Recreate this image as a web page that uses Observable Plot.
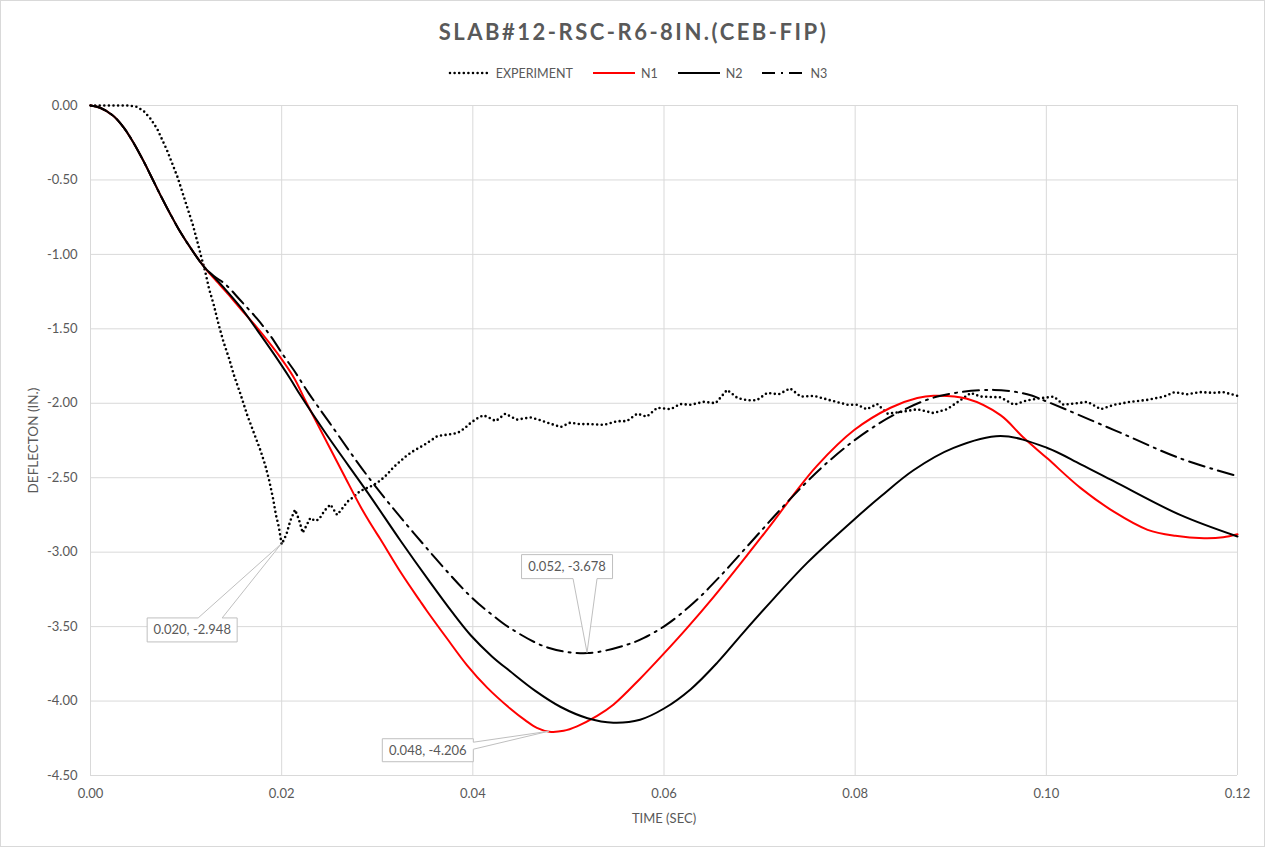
<!DOCTYPE html>
<html>
<head>
<meta charset="utf-8">
<script src="https://cdn.jsdelivr.net/npm/d3@7"></script>
<script src="https://cdn.jsdelivr.net/npm/@observablehq/plot@0.6"></script>
<style>
  html, body { margin: 0; padding: 0; background: #fff; }
  #chart { position: relative; width: 1265px; height: 847px; box-sizing: border-box; border: 1px solid #d9d9d9; font-family: Lato, "Open Sans", sans-serif; color: #595959; overflow: hidden; }
  #title { height: 61px; line-height: 62px; text-align: center; font-size: 22px; font-weight: bold; letter-spacing: 2.5px; color: #595959; padding-left: 2px; }
  #legend { height: 22px; display: flex; justify-content: center; align-items: center; font-size: 12.5px; color: #595959; padding-left: 10px; }
  .item { display: flex; align-items: center; margin: 0 10px; }
  .item svg { margin-right: 6px; }
  #plot svg { display: block; }
</style>
</head>
<body>
<div id="chart">
  <div id="title"></div>
  <div id="legend"></div>
  <div id="plot"></div>
</div>
<script>
const chartTitle = "SLAB#12-RSC-R6-8IN.(CEB-FIP)";
const xLabel = "TIME (SEC)";
const yLabel = "DEFLECTON (IN.)";
const seriesNames = ["EXPERIMENT", "N1", "N2", "N3"];
const xTicks = [0, 0.02, 0.04, 0.06, 0.08, 0.10, 0.12];
const yTicks = [0, -0.5, -1, -1.5, -2, -2.5, -3, -3.5, -4, -4.5];

// EXPERIMENT
const expT = [0, 0.002, 0.004, 0.0049, 0.0056, 0.0063, 0.007, 0.008, 0.0091, 0.0101, 0.0107, 0.0112, 0.0116, 0.012, 0.0124, 0.0129, 0.0134, 0.0139, 0.0145, 0.015, 0.0157, 0.0164, 0.0171, 0.0178, 0.0183, 0.0187, 0.0191, 0.0194, 0.0197, 0.0200, 0.0205, 0.0209, 0.0214, 0.0218, 0.0222, 0.0226, 0.023, 0.0235, 0.0239, 0.0245, 0.0251, 0.0255, 0.0258, 0.0263, 0.0269, 0.0275, 0.0282, 0.0289, 0.0296, 0.0303, 0.031, 0.0317, 0.0324, 0.0331, 0.0338, 0.0349, 0.0356, 0.0363, 0.0374, 0.0384, 0.0391, 0.0398, 0.0405, 0.0411, 0.0418, 0.0424, 0.0434, 0.0446, 0.046, 0.0469, 0.0478, 0.0492, 0.0502, 0.0512, 0.0523, 0.0537, 0.0551, 0.0561, 0.0572, 0.0582, 0.0593, 0.0607, 0.0617, 0.0628, 0.0642, 0.0654, 0.0666, 0.0677, 0.0687, 0.0697, 0.0708, 0.072, 0.0732, 0.0743, 0.0757, 0.0774, 0.0792, 0.0802, 0.0812, 0.0823, 0.0834, 0.0851, 0.0865, 0.0882, 0.0896, 0.091, 0.0921, 0.0931, 0.0952, 0.0966, 0.098, 0.0994, 0.1008, 0.1018, 0.1032, 0.1043, 0.1057, 0.1071, 0.1088, 0.1106, 0.1123, 0.1134, 0.1147, 0.1161, 0.1175, 0.1185, 0.12];
const expV = [0, 0, 0, -0.01, -0.04, -0.09, -0.16, -0.30, -0.48, -0.68, -0.80, -0.92, -1.02, -1.115, -1.23, -1.34, -1.47, -1.585, -1.70, -1.81, -1.94, -2.08, -2.20, -2.32, -2.42, -2.52, -2.64, -2.75, -2.83, -2.948, -2.88, -2.79, -2.715, -2.78, -2.87, -2.82, -2.77, -2.79, -2.78, -2.72, -2.68, -2.72, -2.75, -2.71, -2.66, -2.63, -2.59, -2.57, -2.55, -2.52, -2.48, -2.43, -2.39, -2.35, -2.32, -2.28, -2.25, -2.22, -2.21, -2.20, -2.17, -2.13, -2.10, -2.08, -2.10, -2.12, -2.07, -2.11, -2.095, -2.11, -2.13, -2.16, -2.13, -2.14, -2.14, -2.145, -2.12, -2.12, -2.07, -2.09, -2.03, -2.04, -2.005, -2.01, -1.99, -2.00, -1.91, -1.965, -1.98, -1.98, -1.93, -1.94, -1.90, -1.955, -1.95, -1.98, -2.01, -2.01, -2.04, -2.005, -2.07, -2.055, -2.04, -2.066, -2.04, -1.98, -1.93, -1.955, -1.96, -2.01, -1.98, -1.966, -1.955, -2.01, -2.00, -1.99, -2.04, -2.01, -1.99, -1.977, -1.955, -1.925, -1.94, -1.925, -1.93, -1.925, -1.95];

// N1
const n1T = [0, 0.001, 0.0024, 0.0035, 0.0045, 0.0056, 0.0063, 0.0073, 0.0084, 0.0094, 0.0105, 0.0119, 0.0129, 0.0143, 0.0157, 0.0174, 0.0195, 0.0213, 0.0225, 0.0248, 0.0265, 0.0283, 0.0296, 0.0303, 0.0325, 0.0345, 0.0352, 0.0373, 0.0394, 0.0415, 0.0439, 0.0455, 0.0467, 0.048, 0.0495, 0.0509, 0.053, 0.0547, 0.0575, 0.06, 0.0624, 0.0652, 0.0687, 0.0715, 0.0736, 0.076, 0.0799, 0.0837, 0.0865, 0.0882, 0.0917, 0.0952, 0.0976, 0.1001, 0.1036, 0.1071, 0.1106, 0.1135, 0.1165, 0.1185, 0.12];
const n1V = [0, -0.015, -0.07, -0.15, -0.25, -0.38, -0.47, -0.60, -0.735, -0.85, -0.96, -1.085, -1.16, -1.26, -1.365, -1.49, -1.66, -1.83, -1.985, -2.27, -2.48, -2.70, -2.84, -2.91, -3.14, -3.33, -3.395, -3.58, -3.76, -3.91, -4.05, -4.13, -4.18, -4.206, -4.20, -4.17, -4.10, -4.025, -3.85, -3.68, -3.51, -3.30, -3.02, -2.79, -2.61, -2.42, -2.18, -2.03, -1.965, -1.95, -1.97, -2.08, -2.23, -2.37, -2.57, -2.73, -2.85, -2.89, -2.906, -2.90, -2.88];

// N2
const n2T = [0, 0.001, 0.0024, 0.0035, 0.0045, 0.0056, 0.0063, 0.0073, 0.0084, 0.0094, 0.0105, 0.0119, 0.0129, 0.0139, 0.0157, 0.0174, 0.0192, 0.0209, 0.022, 0.0248, 0.029, 0.0324, 0.0355, 0.0378, 0.0398, 0.042, 0.0439, 0.0465, 0.0492, 0.052, 0.0547, 0.0575, 0.06, 0.0628, 0.0656, 0.0683, 0.0715, 0.075, 0.0799, 0.0827, 0.0861, 0.0903, 0.0952, 0.1001, 0.1036, 0.1071, 0.114, 0.12];
const n2V = [0, -0.015, -0.07, -0.15, -0.25, -0.38, -0.47, -0.60, -0.735, -0.85, -0.96, -1.085, -1.15, -1.22, -1.355, -1.505, -1.67, -1.835, -1.95, -2.22, -2.60, -2.92, -3.20, -3.40, -3.56, -3.70, -3.80, -3.93, -4.04, -4.115, -4.145, -4.125, -4.05, -3.92, -3.74, -3.54, -3.31, -3.07, -2.78, -2.625, -2.45, -2.30, -2.22, -2.30, -2.41, -2.525, -2.75, -2.895];

// N3
const n3T = [0, 0.001, 0.0024, 0.0035, 0.0045, 0.0056, 0.0063, 0.0073, 0.0084, 0.0094, 0.0105, 0.0119, 0.0129, 0.0141, 0.0157, 0.0174, 0.0188, 0.0202, 0.0213, 0.0228, 0.025, 0.029, 0.0338, 0.0398, 0.0422, 0.0439, 0.0478, 0.052, 0.0562, 0.0579, 0.0602, 0.0631, 0.0659, 0.069, 0.0718, 0.0746, 0.0767, 0.0799, 0.084, 0.0886, 0.0945, 0.098, 0.1001, 0.1071, 0.114, 0.12];
const n3V = [0, -0.015, -0.07, -0.15, -0.25, -0.38, -0.47, -0.60, -0.735, -0.85, -0.96, -1.085, -1.145, -1.20, -1.31, -1.43, -1.545, -1.68, -1.78, -1.93, -2.13, -2.49, -2.87, -3.30, -3.43, -3.51, -3.64, -3.678, -3.62, -3.575, -3.49, -3.34, -3.16, -2.94, -2.74, -2.55, -2.42, -2.25, -2.08, -1.955, -1.91, -1.94, -1.99, -2.18, -2.37, -2.49];

// data labels (callouts)
const calloutT = [0.020, 0.052, 0.048];
const calloutV = [-2.948, -3.678, -4.206];

// ---- styles (not data) ----
const seriesStyle = {
  "EXPERIMENT": {stroke: "#000", strokeWidth: 2.6, strokeDasharray: "0 4.6", strokeLinecap: "round", curve: "linear"},
  "N1": {stroke: "#ff0000", strokeWidth: 2, curve: "catmull-rom"},
  "N2": {stroke: "#000", strokeWidth: 2, curve: "catmull-rom"},
  "N3": {stroke: "#000", strokeWidth: 2, strokeDasharray: "16 6 2 6", curve: "catmull-rom"}
};
const calloutLayout = [
  {dx: -89, dy: 86, w: 90, h: 24, side: "top", a: 6, b: 30},
  {dx: -20, dy: -86, w: 91, h: 24, side: "bottom", a: 6, b: 30},
  {dx: -121, dy: 19, w: 91, h: 23, side: "right", a: -8, b: -1}
];

function rows(ts, vs) { return ts.map((t, i) => ({t, v: vs[i]})); }
const seriesData = {
  "EXPERIMENT": rows(expT, expV),
  "N1": rows(n1T, n1V),
  "N2": rows(n2T, n2V),
  "N3": rows(n3T, n3V)
};

document.getElementById("title").textContent = chartTitle;

// legend
const legend = document.getElementById("legend");
for (const name of seriesNames) {
  const s = seriesStyle[name];
  const item = document.createElement("div");
  item.className = "item";
  const ns = "http://www.w3.org/2000/svg";
  const sv = document.createElementNS(ns, "svg");
  sv.setAttribute("width", 42); sv.setAttribute("height", 10);
  const ln = document.createElementNS(ns, "line");
  ln.setAttribute("x1", name === "EXPERIMENT" ? 2 : 0); ln.setAttribute("x2", 42);
  ln.setAttribute("y1", 5); ln.setAttribute("y2", 5);
  ln.setAttribute("stroke", s.stroke); ln.setAttribute("stroke-width", s.strokeWidth);
  if (s.strokeDasharray) ln.setAttribute("stroke-dasharray", name === "N3" ? "13 6 2 6" : s.strokeDasharray);
  if (s.strokeLinecap) ln.setAttribute("stroke-linecap", s.strokeLinecap);
  sv.appendChild(ln);
  item.appendChild(sv);
  const tx = document.createElement("span");
  tx.textContent = name;
  item.appendChild(tx);
  legend.appendChild(item);
}

const fmt = d => d.toFixed(2);
const marks = [
  Plot.gridX(xTicks, {stroke: "#d9d9d9", strokeOpacity: 1, strokeWidth: 1}),
  Plot.gridY(yTicks, {stroke: "#d9d9d9", strokeOpacity: 1, strokeWidth: 1}),
  Plot.axisX(xTicks, {tickSize: 0, tickPadding: 13, tickFormat: fmt, label: null, fontSize: 13}),
  Plot.axisY(yTicks, {tickSize: 0, tickPadding: 13, tickFormat: fmt, label: null, fontSize: 13}),
  Plot.text([xLabel], {text: d => d, frameAnchor: "bottom", dy: 43, lineAnchor: "middle", textAnchor: "middle", fontSize: 13, fill: "#595959"}),
  Plot.text([yLabel], {text: d => d, frameAnchor: "left", dx: -57, rotate: -90, lineAnchor: "middle", textAnchor: "middle", fontSize: 13.5, fill: "#595959"})
];
for (const name of seriesNames) {
  const s = seriesStyle[name];
  marks.push(Plot.line(seriesData[name], {x: "t", y: "v", ...s}));
}

const plot = Plot.plot({
  width: 1263,
  height: 764,
  marginLeft: 89,
  marginRight: 27,
  marginTop: 21,
  marginBottom: 73,
  x: {domain: [0, 0.12]},
  y: {domain: [-4.5, 0]},
  style: {fontFamily: "Lato, 'Open Sans', sans-serif", fontSize: "13px", color: "#595959", background: "white", overflow: "visible"},
  marks
});
document.getElementById("plot").appendChild(plot);

// callouts drawn through the plot's own scales
const sx = plot.scale("x"), sy = plot.scale("y");
const fx = sx.apply ? (v => sx.apply(v)) : d3.scaleLinear(sx.domain, sx.range);
const fy = sy.apply ? (v => sy.apply(v)) : d3.scaleLinear(sy.domain, sy.range);
const g = d3.select(plot).append("g").attr("class", "callouts");
calloutT.forEach((t, i) => {
  const L = calloutLayout[i];
  const px = fx(t), py = fy(calloutV[i]);
  const cx = px + L.dx, cy = py + L.dy;
  const x0 = cx - L.w / 2, x1 = cx + L.w / 2, y0 = cy - L.h / 2, y1 = cy + L.h / 2;
  let p;
  if (L.side === "top") {
    p = `M${x0},${y0}L${cx + L.a},${y0}L${px},${py}L${cx + L.b},${y0}L${x1},${y0}L${x1},${y1}L${x0},${y1}Z`;
  } else if (L.side === "bottom") {
    p = `M${x0},${y0}L${x1},${y0}L${x1},${y1}L${cx + L.b},${y1}L${px},${py}L${cx + L.a},${y1}L${x0},${y1}Z`;
  } else {
    p = `M${x0},${y0}L${x1},${y0}L${x1},${cy + L.a}L${px},${py}L${x1},${cy + L.b}L${x1},${y1}L${x0},${y1}Z`;
  }
  g.append("path").attr("d", p).attr("fill", "white").attr("stroke", "#bfbfbf").attr("stroke-width", 1);
  g.append("text").attr("x", cx).attr("y", cy).attr("dy", "0.35em").attr("text-anchor", "middle")
    .attr("fill", "#595959").attr("font-size", 13).text(`${t.toFixed(3)}, ${calloutV[i].toFixed(3)}`);
});
</script>
</body>
</html>
